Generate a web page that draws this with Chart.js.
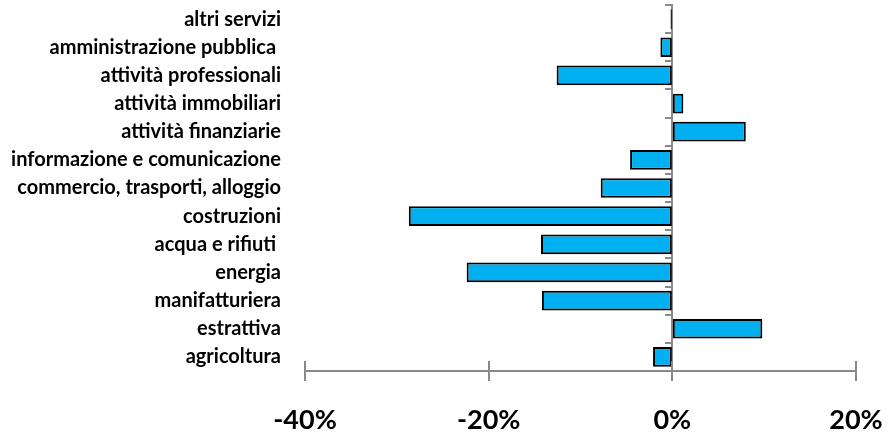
<!DOCTYPE html>
<html>
<head>
<meta charset="utf-8">
<script src="https://cdn.jsdelivr.net/npm/chart.js@4"></script>
<style>
  html, body { margin: 0; padding: 0; background: #fff; }
  #wrap { width: 888px; height: 434px; }
</style>
</head>
<body>
<div id="wrap"><canvas id="settori"></canvas></div>
<script>
// Settori (dall'alto verso il basso)
const settori = [
  'altri servizi',
  'amministrazione pubblica ',
  'attività professionali',
  'attività immobiliari',
  'attività finanziarie',
  'informazione e comunicazione',
  'commercio, trasporti, alloggio',
  'costruzioni',
  'acqua e rifiuti ',
  'energia',
  'manifatturiera',
  'estrattiva',
  'agricoltura'
];

// Variazione percentuale per settore
const variazioni = [-0.2, -1.3, -12.6, 1.2, 8.0, -4.6, -7.8, -28.7, -14.3, -22.4, -14.2, 9.8, -2.1];

// Scala orizzontale
const asseMin = -40;
const asseMax = 20;
const passo = 20;

const grigio = '#898989';

// Trattini dell'asse x, sopra e sotto la linea
const tacchePlugin = {
  id: 'tacche',
  afterDraw(chart) {
    const sx = chart.scales.x;
    const c = chart.ctx;
    c.save();
    c.strokeStyle = grigio;
    c.lineWidth = 2;
    sx.ticks.forEach(t => {
      const px = Math.round(sx.getPixelForValue(t.value));
      c.beginPath();
      c.moveTo(px, sx.top - 10);
      c.lineTo(px, sx.top + 10);
      c.stroke();
    });
    c.restore();
  }
};

new Chart(document.getElementById('settori'), {
  type: 'bar',
  data: {
    labels: settori,
    datasets: [{
      data: variazioni,
      backgroundColor: '#00B0F0',
      borderColor: '#000',
      borderWidth: 2,
      borderSkipped: false,
      barPercentage: 0.7,
      categoryPercentage: 1
    }]
  },
  options: {
    indexAxis: 'y',
    responsive: true,
    maintainAspectRatio: false,
    animation: false,
    layout: { padding: { left: 0, right: 32, top: 5, bottom: 0 } },
    plugins: {
      legend: { display: false },
      tooltip: { enabled: false }
    },
    scales: {
      x: {
        min: asseMin,
        max: asseMax,
        ticks: {
          stepSize: passo,
          callback: v => v + '%',
          color: '#000',
          padding: 0,
          font: { family: 'Lato', weight: 'bold', size: 27, lineHeight: 1 }
        },
        grid: {
          drawOnChartArea: false,
          color: 'transparent',
          tickLength: 36
        },
        border: { color: grigio, width: 2 }
      },
      y: {
        offset: true,
        grid: {
          offset: true,
          drawOnChartArea: false,
          color: 'transparent',
          tickLength: 24
        },
        border: { display: false },
        ticks: {
          color: '#000',
          padding: 0,
          font: { family: 'Lato', weight: 'bold', size: 20, lineHeight: 0.5 }
        },
        afterFit: s => { s.width = 305; }
      },
      y0: {
        type: 'category',
        axis: 'y',
        position: { x: 0 },
        offset: true,
        z: 1,
        ticks: { display: false },
        grid: {
          offset: true,
          drawOnChartArea: false,
          color: grigio,
          lineWidth: 2,
          tickLength: 6
        },
        border: { color: grigio, width: 2 }
      }
    }
  },
  plugins: [tacchePlugin]
});
</script>
</body>
</html>
